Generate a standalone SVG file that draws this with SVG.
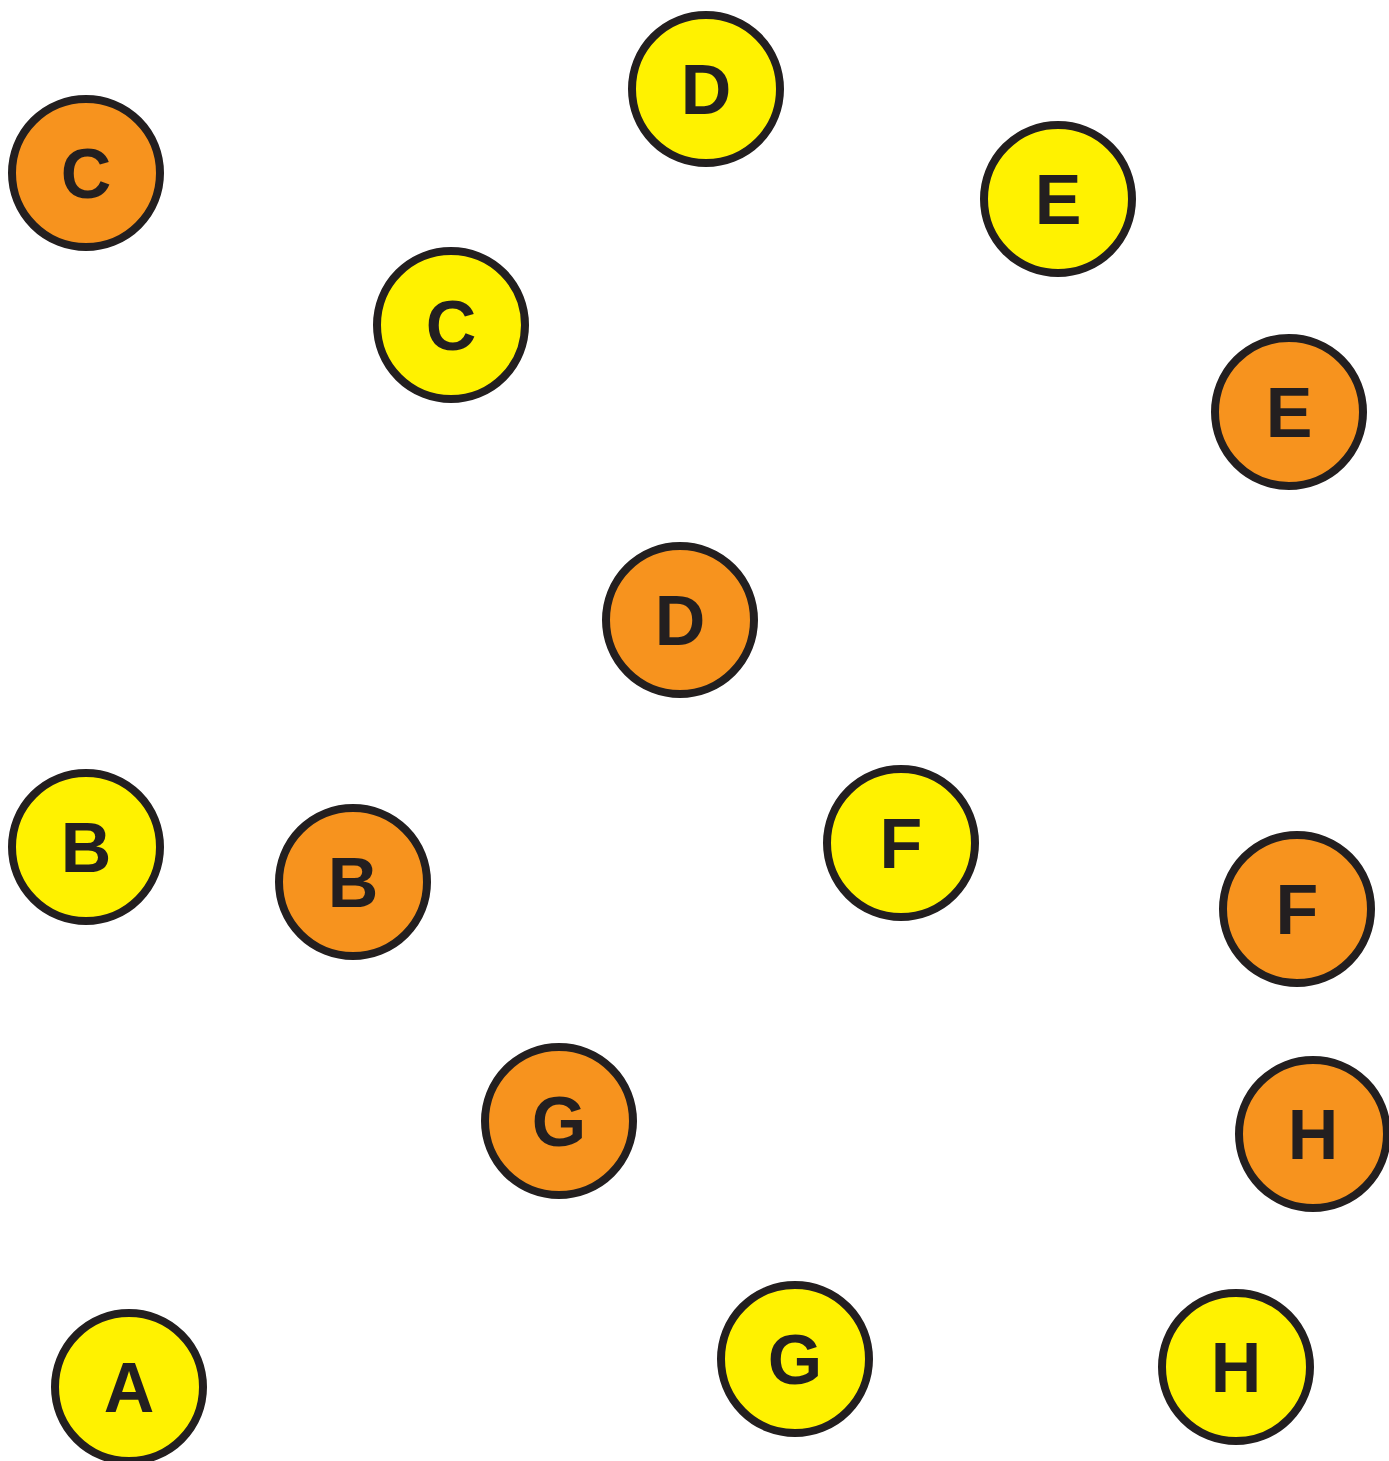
<svg xmlns="http://www.w3.org/2000/svg" width="1389" height="1461" viewBox="0 0 1389 1461">
<style>
.n{stroke:#231F20;stroke-width:8}
.o{fill:#F7931E}
.y{fill:#FFF200}
.t{font-family:"Liberation Sans",Arial,sans-serif;font-weight:bold;font-size:70px;fill:#231F20;text-anchor:middle}
</style>
<rect width="1389" height="1461" fill="#fff"/>
<g id="connectors"></g>
<g id="nodeC1"><circle class="n o" cx="86" cy="173" r="74"/><text class="t" x="86" y="198">C</text></g>
<g id="nodeD1"><circle class="n y" cx="706" cy="89" r="74"/><text class="t" x="706" y="114">D</text></g>
<g id="nodeE1"><circle class="n y" cx="1058" cy="199" r="74"/><text class="t" x="1058" y="224">E</text></g>
<g id="nodeC2"><circle class="n y" cx="451" cy="325" r="74"/><text class="t" x="451" y="350">C</text></g>
<g id="nodeE2"><circle class="n o" cx="1289" cy="412" r="74"/><text class="t" x="1289" y="437">E</text></g>
<g id="nodeD2"><circle class="n o" cx="680" cy="620" r="74"/><text class="t" x="680" y="645">D</text></g>
<g id="nodeB1"><circle class="n y" cx="86" cy="847" r="74"/><text class="t" x="86" y="872">B</text></g>
<g id="nodeB2"><circle class="n o" cx="353" cy="882" r="74"/><text class="t" x="353" y="907">B</text></g>
<g id="nodeF1"><circle class="n y" cx="901" cy="843" r="74"/><text class="t" x="901" y="868">F</text></g>
<g id="nodeF2"><circle class="n o" cx="1297" cy="909" r="74"/><text class="t" x="1297" y="934">F</text></g>
<g id="nodeG1"><circle class="n o" cx="559" cy="1121" r="74"/><text class="t" x="559" y="1146">G</text></g>
<g id="nodeH1"><circle class="n o" cx="1313" cy="1134" r="74"/><text class="t" x="1313" y="1159">H</text></g>
<g id="nodeA"><circle class="n y" cx="129" cy="1387" r="74"/><text class="t" x="129" y="1412">A</text></g>
<g id="nodeG2"><circle class="n y" cx="795" cy="1359" r="74"/><text class="t" x="795" y="1384">G</text></g>
<g id="nodeH2"><circle class="n y" cx="1236" cy="1367" r="74"/><text class="t" x="1236" y="1392">H</text></g>
</svg>
